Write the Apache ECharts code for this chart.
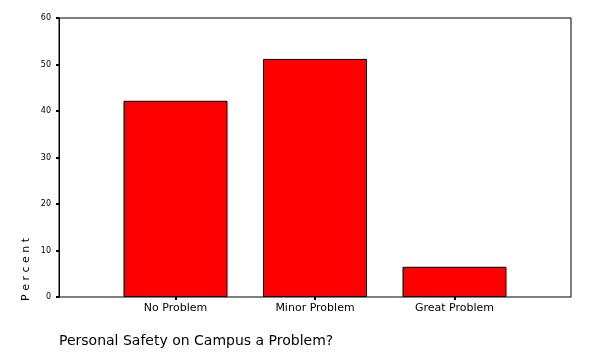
<!DOCTYPE html>
<html>
<head>
<meta charset="utf-8">
<script src="https://cdn.jsdelivr.net/npm/echarts@6/dist/echarts.min.js"></script>
<style>
html,body{margin:0;padding:0;background:#fff;}
#chart{width:590px;height:354px;}
</style>
</head>
<body>
<div id="chart"></div>
<script>
const categories = ['No Problem', 'Minor Problem', 'Great Problem'];
const percents = [42.2, 51.2, 6.5];
const yMin = 0;
const yMax = 60;
const yStep = 10;
const titleText = 'Personal Safety on Campus a Problem?';
const yAxisTitle = 'P e r c e n t';

const chart = echarts.init(document.getElementById('chart'), null, {renderer: 'canvas'});
const font = '"DejaVu Sans", Arial, sans-serif';
chart.setOption({
  animation: false,
  backgroundColor: '#fff',
  title: {
    text: titleText,
    left: 59, top: 334, padding: 0,
    textStyle: {fontFamily: font, fontSize: 14, fontWeight: 'normal', color: '#000'}
  },
  grid: [
    {left: 59, right: 19, top: 18, bottom: 57, show: true, borderColor: '#000', borderWidth: 1, backgroundColor: 'transparent'},
    {left: 105.75, right: 65.75, top: 18, bottom: 57}
  ],
  xAxis: [
    {gridIndex: 0, type: 'category', data: [], show: false},
    {gridIndex: 1, type: 'category', data: categories,
     axisLine: {show: false},
     axisTick: {show: true, alignWithLabel: true, length: 3, lineStyle: {color: '#000', width: 2}},
     axisLabel: {fontFamily: font, fontSize: 11, color: '#000', margin: 6}
    }
  ],
  yAxis: [
    {gridIndex: 0, type: 'value', min: yMin, max: yMax, interval: yStep,
     axisLine: {show: true, lineStyle: {color: '#000', width: 1}},
     axisTick: {show: true, length: 3, lineStyle: {color: '#000', width: 2}},
     axisLabel: {fontFamily: font, fontSize: 8, color: '#000', margin: 8},
     splitLine: {show: false}
    },
    {gridIndex: 1, type: 'value', min: yMin, max: yMax, show: false, splitLine: {show: false}}
  ],
  series: [{
    type: 'bar',
    xAxisIndex: 1, yAxisIndex: 1,
    data: percents,
    barWidth: 104,
    itemStyle: {color: '#ff0000', borderColor: '#000', borderWidth: 1}
  }],
  graphic: [{
    type: 'text',
    left: 21, top: 238,
    rotation: Math.PI / 2,
    originX: 0, originY: 0,
    style: {text: yAxisTitle, font: '11px ' + font, fill: '#000'}
  }]
});
</script>
</body>
</html>
